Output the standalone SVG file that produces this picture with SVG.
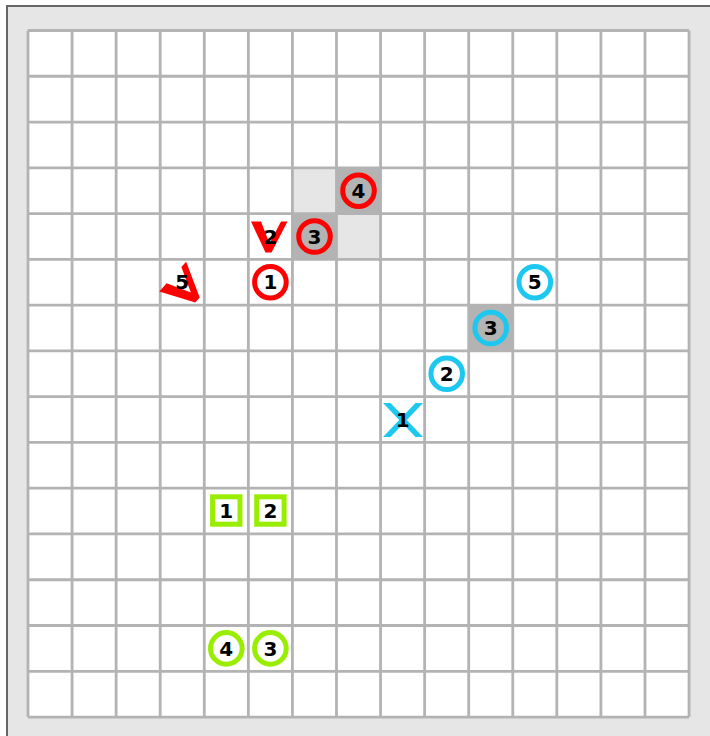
<svg xmlns="http://www.w3.org/2000/svg" width="710" height="736" viewBox="0 0 710 736">
<style>
.grid{fill:none;stroke:#b3b3b3;stroke-width:2.8}
.dk{fill:#b3b3b3}
.lt{fill:#e6e6e6}
.cr{fill:none;stroke:#ff0000;stroke-width:5}
.cc{fill:none;stroke:#1cc8f0;stroke-width:5}
.cg{fill:none;stroke:#99ee00;stroke-width:5}
.t{font-family:"DejaVu Sans","Liberation Sans",sans-serif;font-weight:bold;font-size:20px;fill:#000;text-anchor:middle}
</style>
<defs>
<polygon id="vee" points="-17.5,-31 -7.5,-31 1,-9 12.5,-31 19,-31 3,0 -3,0"/>
</defs>
<rect x="0" y="0" width="710" height="736" fill="#ffffff"/>
<rect x="7" y="6" width="720" height="750" fill="#e6e6e6" stroke="#666666" stroke-width="2"/>
<g id="board">
<rect x="28" y="30.5" width="661" height="686.5" fill="#ffffff"/>
<rect class="lt" x="292.4" y="167.8" width="44.1" height="45.8"/>
<rect class="dk" x="336.5" y="167.8" width="44.1" height="45.8"/>
<rect class="dk" x="292.4" y="213.6" width="44.1" height="45.8"/>
<rect class="lt" x="336.5" y="213.6" width="44.1" height="45.8"/>
<rect class="dk" x="468.7" y="305.1" width="44.1" height="45.8"/>
<path class="grid" d="M28,30.5V717M72.07,30.5V717M116.14,30.5V717M160.21,30.5V717M204.28,30.5V717M248.35,30.5V717M292.42,30.5V717M336.49,30.5V717M380.56,30.5V717M424.63,30.5V717M468.7,30.5V717M512.77,30.5V717M556.84,30.5V717M600.91,30.5V717M644.98,30.5V717M689.05,30.5V717M28,30.5H689M28,76.27H689M28,122.04H689M28,167.81H689M28,213.58H689M28,259.35H689M28,305.12H689M28,350.89H689M28,396.66H689M28,442.43H689M28,488.2H689M28,533.97H689M28,579.74H689M28,625.51H689M28,671.28H689M28,717.05H689"/>
</g>
<g id="red1"><circle class="cr" cx="270.4" cy="282.2" r="15.8"/><text class="t" x="270.4" y="289.4">1</text></g>
<g id="red2"><use href="#vee" fill="#ff0000" transform="translate(268.5,252.5)"/><text class="t" x="270.4" y="243.7">2</text></g>
<g id="red3"><circle class="cr" cx="314.5" cy="236.5" r="15.8"/><text class="t" x="314.5" y="243.7">3</text></g>
<g id="red4"><circle class="cr" cx="358.5" cy="190.7" r="15.8"/><text class="t" x="358.5" y="197.9">4</text></g>
<g id="red5"><use href="#vee" fill="#ff0000" transform="translate(197.5,300) rotate(-48) scale(1.1)"/><text class="t" x="182.3" y="289.4">5</text></g>
<g id="cyan1"><polygon fill="#1cc8f0" points="383,403 390.5,403 423,437 415.5,437"/><polygon fill="#1cc8f0" points="415.5,403 423,403 390.5,437 383,437"/><text class="t" x="402.6" y="426.7">1</text></g>
<g id="cyan2"><circle class="cc" cx="446.7" cy="373.8" r="15.8"/><text class="t" x="446.7" y="381">2</text></g>
<g id="cyan3"><circle class="cc" cx="490.7" cy="328" r="15.8"/><text class="t" x="490.7" y="335.2">3</text></g>
<g id="cyan5"><circle class="cc" cx="534.8" cy="282.2" r="15.8"/><text class="t" x="534.8" y="289.4">5</text></g>
<g id="green1"><rect class="cg" x="212.6" y="496.8" width="27.4" height="27.4"/><text class="t" x="226.3" y="518.3">1</text></g>
<g id="green2"><rect class="cg" x="256.7" y="496.8" width="27.4" height="27.4"/><text class="t" x="270.4" y="518.3">2</text></g>
<g id="green3"><circle class="cg" cx="270.4" cy="648.4" r="15.8"/><text class="t" x="270.4" y="655.6">3</text></g>
<g id="green4"><circle class="cg" cx="226.3" cy="648.4" r="15.8"/><text class="t" x="226.3" y="655.6">4</text></g>
</svg>
